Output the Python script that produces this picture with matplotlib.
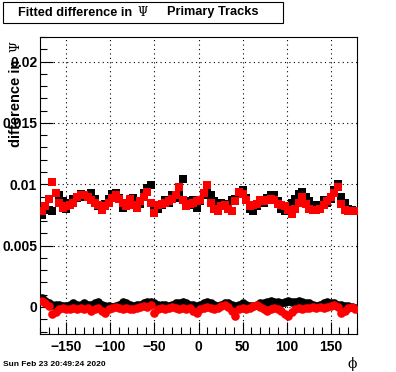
"""
Fitted difference in Psi vs phi -- Primary Tracks (ROOT-style plot)
"""

import matplotlib
matplotlib.use("Agg")
import matplotlib.pyplot as plt
import matplotlib.ticker as ticker
import numpy as np

# ─────────────────────────────── Dados ─────────────────────────────────── #

N_BINS = 90
PHI_MIN, PHI_MAX = -180.0, 180.0

# banda superior (~0.008-0.010)
sup_preto = [
    0.0075, 0.0081, 0.0079, 0.0078, 0.0093, 0.0091, 0.0086, 0.0080, 0.0085, 0.0088,
    0.0089, 0.0092, 0.0090, 0.0091, 0.0093, 0.0088, 0.0082, 0.0080, 0.0084, 0.0088,
    0.0092, 0.0093, 0.0089, 0.0081, 0.0084, 0.0087, 0.0089, 0.0086, 0.0084, 0.0093,
    0.0097, 0.0099, 0.0080, 0.0080, 0.0083, 0.0087, 0.0085, 0.0091, 0.0089, 0.0093,
    0.0104, 0.0086, 0.0083, 0.0087, 0.0081, 0.0086, 0.0091, 0.0096, 0.0091, 0.0086,
    0.0082, 0.0085, 0.0084, 0.0081, 0.0087, 0.0088, 0.0094, 0.0095, 0.0089, 0.0080,
    0.0078, 0.0082, 0.0086, 0.0085, 0.0089, 0.0091, 0.0091, 0.0086, 0.0080, 0.0078,
    0.0082, 0.0085, 0.0088, 0.0092, 0.0094, 0.0090, 0.0086, 0.0079, 0.0083, 0.0082,
    0.0087, 0.0085, 0.0088, 0.0095, 0.0100, 0.0090, 0.0085, 0.0080, 0.0079, 0.0078,
]
sup_vermelho = [
    0.0078, 0.0082, 0.0088, 0.0102, 0.0093, 0.0085, 0.0081, 0.0082, 0.0083, 0.0085,
    0.0090, 0.0091, 0.0091, 0.0090, 0.0087, 0.0085, 0.0083, 0.0079, 0.0082, 0.0085,
    0.0089, 0.0091, 0.0088, 0.0085, 0.0082, 0.0088, 0.0083, 0.0081, 0.0086, 0.0090,
    0.0094, 0.0085, 0.0077, 0.0083, 0.0084, 0.0085, 0.0086, 0.0088, 0.0091, 0.0098,
    0.0087, 0.0082, 0.0084, 0.0085, 0.0086, 0.0087, 0.0093, 0.0099, 0.0085, 0.0080,
    0.0078, 0.0082, 0.0083, 0.0080, 0.0078, 0.0086, 0.0094, 0.0092, 0.0087, 0.0082,
    0.0083, 0.0084, 0.0087, 0.0086, 0.0087, 0.0088, 0.0087, 0.0084, 0.0083, 0.0082,
    0.0079, 0.0076, 0.0080, 0.0085, 0.0090, 0.0084, 0.0080, 0.0079, 0.0079, 0.0080,
    0.0083, 0.0086, 0.0090, 0.0093, 0.0098, 0.0084, 0.0079, 0.0078, 0.0078, 0.0078,
]

# banda inferior (~0)
inf_preto = [
    0.0007, 0.0005, 0.0003, 0.0002, 0.0002, 0.0002, 0.0001, 0.0001, 0.0002, 0.0003,
    0.0002, 0.0002, 0.0003, 0.0002, 0.0002, 0.0003, 0.0004, 0.0002, 0.0001, 0.0001,
    0.0000, 0.0001, 0.0002, 0.0004, 0.0003, 0.0002, 0.0001, 0.0002, 0.0002, 0.0003,
    0.0004, 0.0004, 0.0003, 0.0002, 0.0002, 0.0002, 0.0001, 0.0002, 0.0003, 0.0003,
    0.0004, 0.0003, 0.0002, 0.0002, 0.0001, 0.0002, 0.0003, 0.0004, 0.0003, 0.0002,
    0.0001, 0.0002, 0.0003, 0.0003, 0.0002, 0.0001, 0.0002, 0.0003, 0.0002, 0.0001,
    0.0001, 0.0002, 0.0003, 0.0003, 0.0004, 0.0005, 0.0004, 0.0004, 0.0003, 0.0004,
    0.0005, 0.0004, 0.0004, 0.0005, 0.0004, 0.0003, 0.0003, 0.0002, 0.0001, 0.0002,
    0.0003, 0.0004, 0.0003, 0.0003, 0.0002, 0.0002, 0.0001, 0.0001, 0.0000, -0.0001,
]
inf_vermelho = [
    0.0005, 0.0003, 0.0001, -0.0006, -0.0004, -0.0002, -0.0001, -0.0002, -0.0002, -0.0001,
    -0.0002, -0.0001, -0.0002, -0.0001, -0.0003, -0.0002, -0.0001, -0.0003, -0.0005, -0.0002,
    -0.0001, 0.0000, -0.0001, -0.0002, -0.0001, -0.0002, -0.0002, -0.0001, 0.0000, 0.0001,
    0.0000, 0.0002, -0.0005, -0.0002, -0.0001, -0.0002, -0.0001, 0.0000, -0.0001, -0.0002,
    -0.0001, -0.0002, -0.0001, -0.0003, -0.0005, -0.0002, -0.0001, 0.0000, -0.0001, -0.0002,
    -0.0001, 0.0001, 0.0002, 0.0000, -0.0003, -0.0007, -0.0002, -0.0001, -0.0002, -0.0001,
    0.0001, 0.0002, 0.0000, -0.0002, -0.0003, -0.0002, -0.0001, -0.0002, -0.0003, -0.0006,
    -0.0007, -0.0004, -0.0002, -0.0001, -0.0002, -0.0001, -0.0001, 0.0000, -0.0001, 0.0000,
    -0.0001, 0.0000, 0.0001, 0.0002, 0.0000, -0.0005, -0.0003, -0.0001, 0.0000, -0.0002,
]

TITULO = "Fitted difference in"
TITULO_2 = "Primary Tracks"
DATA_HORA = "Sun Feb 23 20:49:24 2020"

# ─────────────────────────────── Gráfico ───────────────────────────────── #

largura_bin = (PHI_MAX - PHI_MIN) / N_BINS
phi = PHI_MIN + largura_bin * (np.arange(N_BINS) + 0.5)

FONTE = "Liberation Sans"
SERIF = "DejaVu Serif"

fig = plt.figure(figsize=(3.96, 3.72), dpi=100)
ax = fig.add_axes([40 / 396, 1 - 334 / 372, 317 / 396, 297 / 372])

ax.plot(phi, inf_preto, "o", color="black", ms=6.2, mew=0, zorder=3)
ax.plot(phi, inf_vermelho, "o", color="red", ms=6.2, mew=0, zorder=4)
ax.plot(phi, sup_preto, "s", color="black", ms=5.6, mew=0, zorder=3)
ax.plot(phi, sup_vermelho, "s", color="red", ms=5.6, mew=0, zorder=4)

ax.set_xlim(PHI_MIN, PHI_MAX)
ax.set_ylim(-0.0022, 0.022)

ax.xaxis.set_major_locator(ticker.MultipleLocator(50))
ax.xaxis.set_minor_locator(ticker.MultipleLocator(10))
ax.yaxis.set_major_locator(ticker.MultipleLocator(0.005))
ax.yaxis.set_minor_locator(ticker.MultipleLocator(0.001))
ax.yaxis.set_major_formatter(ticker.FuncFormatter(lambda v, p: f"{v:g}" if abs(v) > 1e-12 else "0"))
ax.xaxis.set_major_formatter(ticker.FuncFormatter(lambda v, p: f"{v:g}".replace("-", "\u2212")))

ax.tick_params(which="both", direction="in", top=False, right=False, width=0.8, color="black")
ax.tick_params(which="major", length=9)
ax.tick_params(which="minor", length=5)
ax.tick_params(axis="y", pad=2)
ax.tick_params(axis="x", pad=4)
for lbl in ax.get_xticklabels() + ax.get_yticklabels():
    lbl.set_fontfamily(FONTE)
    lbl.set_fontweight("bold")
    lbl.set_fontsize(10)

ax.grid(which="major", color="black", linestyle=(0, (1, 3)), linewidth=0.8)
for s in ax.spines.values():
    s.set_linewidth(0.8)

# rótulos dos eixos (estilo ROOT: alinhados ao fim do eixo)
fig.text(9 / 396, 1 - 147 / 372, "difference in", rotation=90, ha="left", va="bottom",
         fontfamily=FONTE, fontweight="bold", fontsize=10.5)
fig.text(9 / 396, 1 - 41 / 372, "\u03a8", rotation=90, ha="left", va="top",
         fontfamily=SERIF, fontsize=9)
fig.text(352 / 396, 1 - 364 / 372, "\u03d5", ha="center", va="center",
         fontfamily=SERIF, fontsize=10)

# caixa do título
fig.patches.append(plt.Rectangle((3 / 396, 1 - 23 / 372), 280 / 396, 21 / 372,
                                 transform=fig.transFigure, fill=False,
                                 edgecolor="black", linewidth=0.8))
fig.text(18 / 396, 1 - 12.5 / 372, TITULO, ha="left", va="center",
         fontfamily=FONTE, fontweight="bold", fontsize=9.2)
fig.text(143 / 396, 1 - 12.5 / 372, "\u03a8", ha="center", va="center",
         fontfamily=SERIF, fontsize=8.5)
fig.text(167 / 396, 1 - 12.5 / 372, TITULO_2, ha="left", va="center",
         fontfamily=FONTE, fontweight="bold", fontsize=9.2)

fig.text(3 / 396, 1 - 364 / 372, DATA_HORA, ha="left", va="center",
         fontfamily=FONTE, fontweight="bold", fontsize=6)

fig.savefig("out.png", dpi=100)
